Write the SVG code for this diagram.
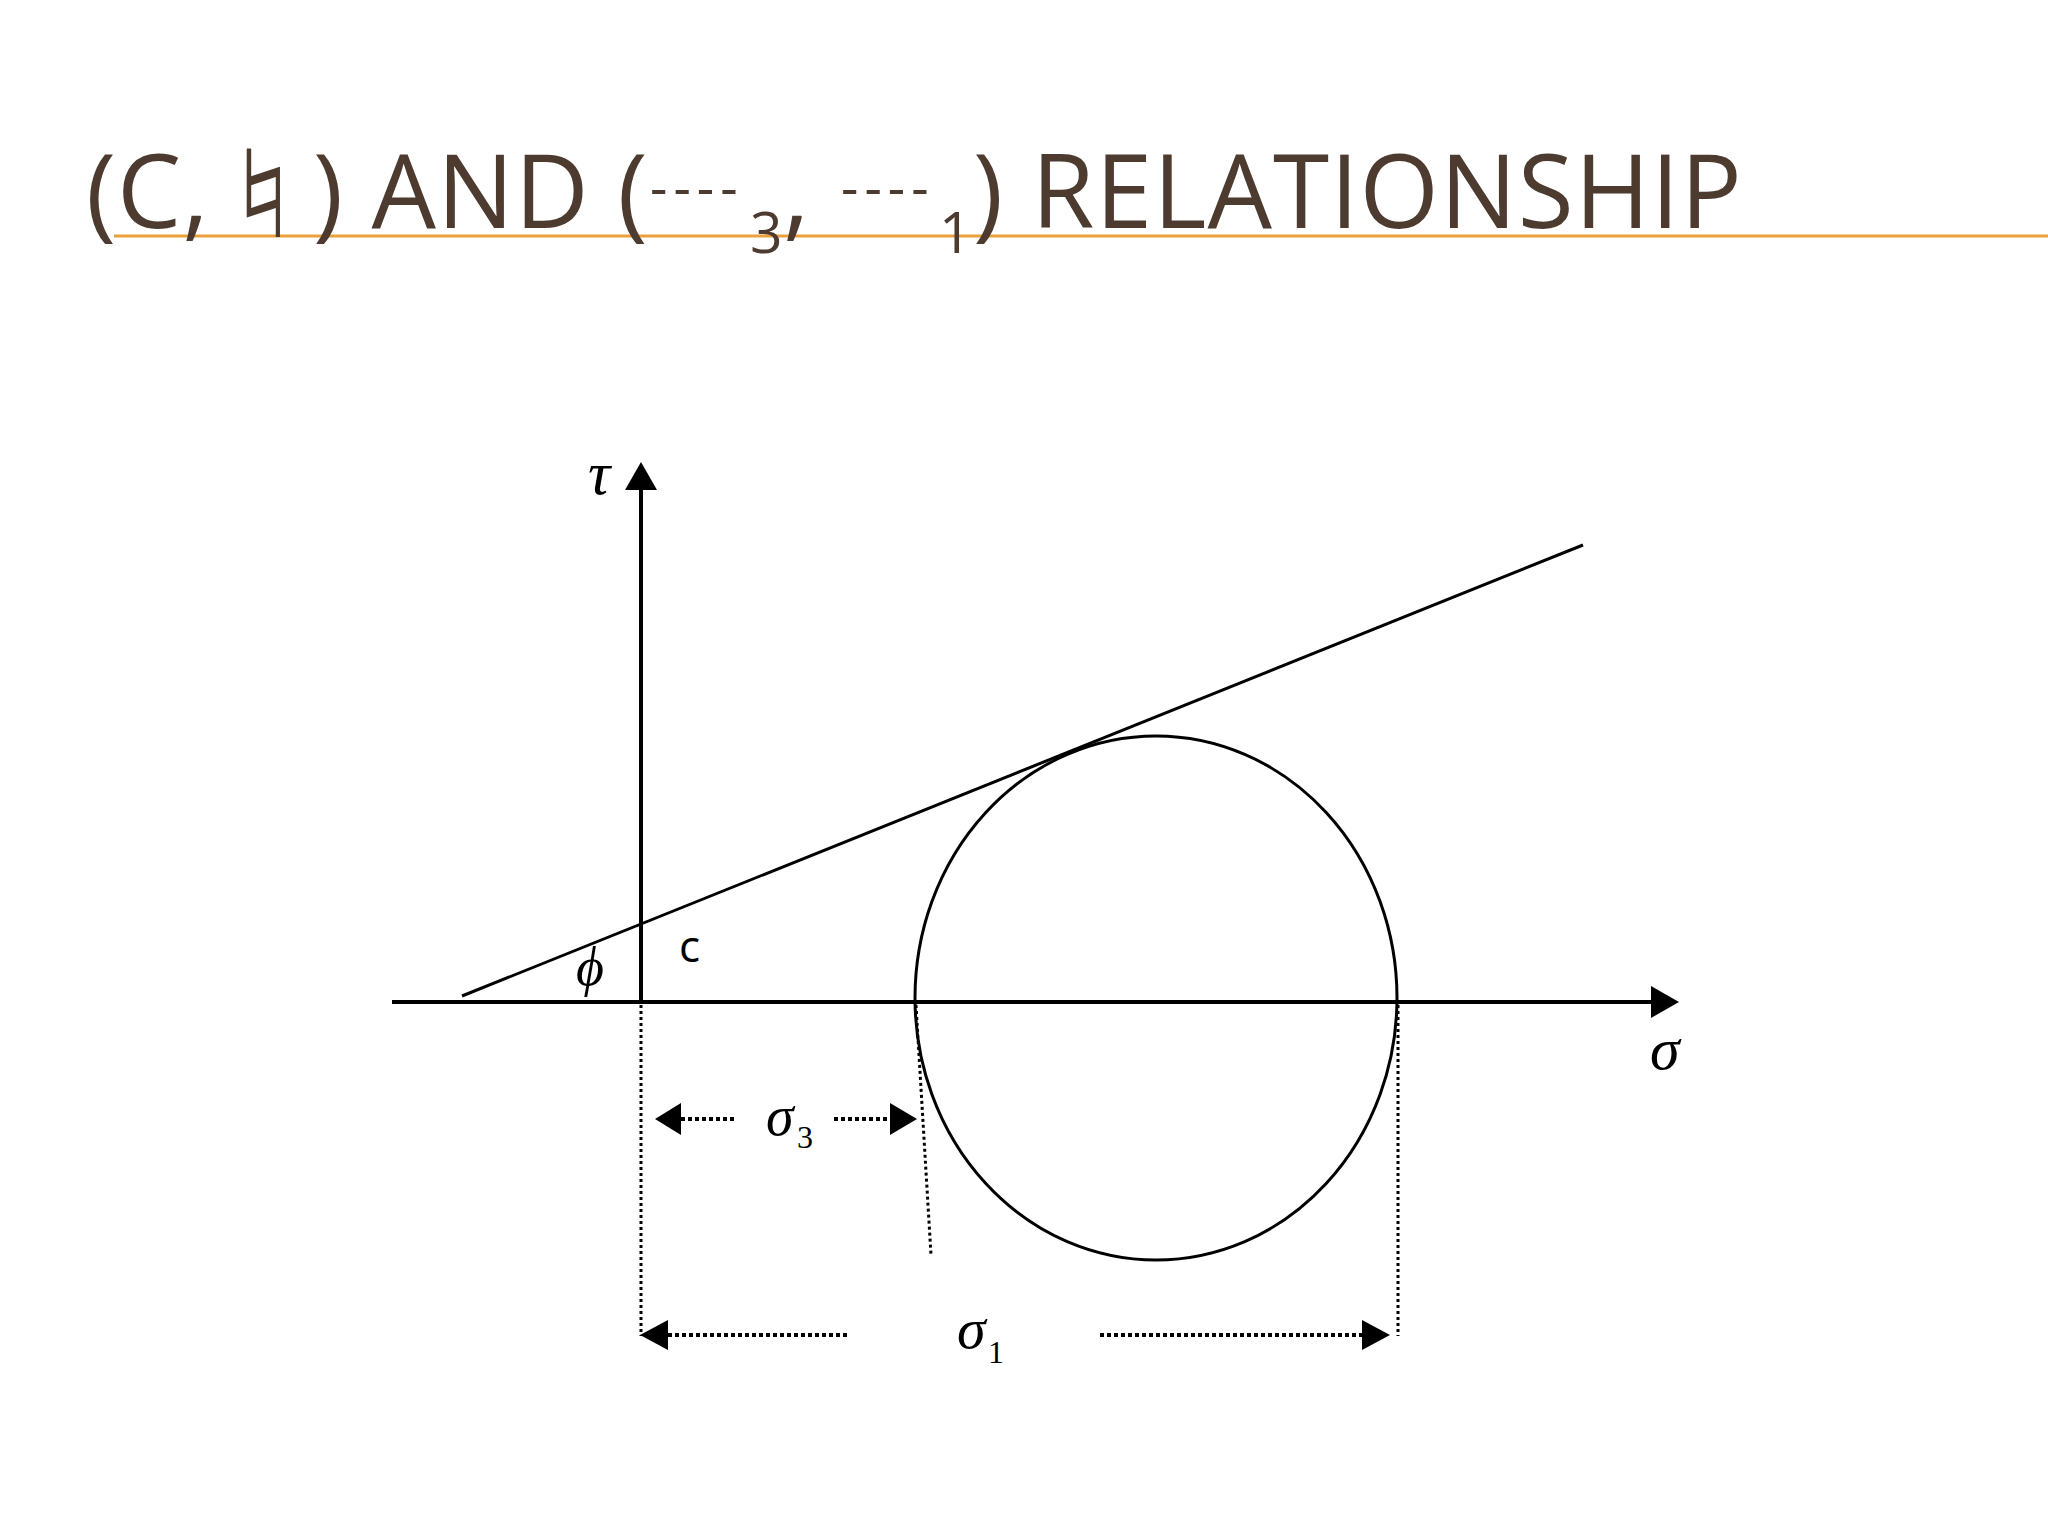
<svg xmlns="http://www.w3.org/2000/svg" width="2048" height="1536" viewBox="0 0 2048 1536">
  <defs>
    <style>
      .title { font-family: "Open Sans", "Liberation Sans", sans-serif; font-size: 102px; fill: #4E3B30; letter-spacing: 1px; }
      .tsub { font-family: "Open Sans", "Liberation Sans", sans-serif; font-size: 57px; fill: #4E3B30; }
      .tdash { font-family: "Open Sans", "Liberation Sans", sans-serif; font-size: 54px; fill: #4E3B30; letter-spacing: 6px; }
      .greek { font-family: "Liberation Serif", "Times New Roman", serif; font-style: italic; fill: #000; }
      .num { font-family: "Liberation Serif", "Times New Roman", serif; fill: #000; }
      .axis { stroke: #000; stroke-width: 4; fill: none; }
      .thin { stroke: #000; stroke-width: 3; fill: none; }
      .dot { stroke: #000; stroke-width: 3; stroke-dasharray: 3 3; fill: none; }
      .dotarrow { stroke: #000; stroke-width: 4; stroke-dasharray: 4 3; fill: none; }
      .head { fill: #000; }
    </style>
  </defs>
  <rect width="2048" height="1536" fill="#FFFFFF"/>

  <g id="title">
    <line x1="114" y1="236" x2="2048" y2="236" stroke="#E9A23B" stroke-width="3"/>
    <text class="title" x="86" y="228">(C,</text>
    <text transform="translate(232,237) scale(1.45,1)" x="0" y="0" font-family="DejaVu Sans, sans-serif" font-size="121" fill="#4E3B30">♮</text>
    <text class="title" x="313" y="228" xml:space="preserve">) AND (</text>
    <text class="tdash" x="650" y="207">----</text>
    <text class="tsub" x="750" y="253">3</text>
    <text class="title" x="783" y="228">,</text>
    <text class="tdash" x="841" y="207">----</text>
    <text class="tsub" x="939" y="253">1</text>
    <text class="title" x="973" y="228" xml:space="preserve">) RELATIONSHIP</text>
  </g>

  <g id="axes">
    <line class="axis" x1="641" y1="488" x2="641" y2="1004"/>
    <polygon class="head" points="625,490 657,490 641,462"/>
    <line class="axis" x1="392" y1="1002" x2="1653" y2="1002"/>
    <polygon class="head" points="1651,986 1651,1018 1679,1002"/>
    <text class="greek" x="588" y="494" font-size="62">τ</text>
    <text class="greek" x="1650" y="1069" font-size="60">σ</text>
  </g>

  <g id="mohr-circle">
    <ellipse class="thin" cx="1156" cy="998" rx="241" ry="262"/>
  </g>

  <g id="failure-envelope">
    <line class="thin" x1="462" y1="996" x2="1583" y2="545"/>
    <text class="greek" x="576" y="985" font-size="54">ϕ</text>
    <text x="679" y="962" font-family="Open Sans, Liberation Sans, sans-serif" font-size="44" fill="#000">c</text>
  </g>

  <g id="connectors">
    <line class="dot" x1="641" y1="1005" x2="641" y2="1336"/>
    <line class="dot" x1="1398" y1="1005" x2="1398" y2="1336"/>
    <line class="dot" x1="916" y1="1005" x2="931" y2="1255"/>

    <line class="dotarrow" x1="681" y1="1119" x2="737" y2="1119"/>
    <polygon class="head" points="681,1103 681,1135 655,1119"/>
    <line class="dotarrow" x1="834" y1="1119" x2="890" y2="1119"/>
    <polygon class="head" points="890,1103 890,1135 917,1119"/>

    <line class="dotarrow" x1="668" y1="1335" x2="850" y2="1335"/>
    <polygon class="head" points="668,1320 668,1350 640,1335"/>
    <line class="dotarrow" x1="1100" y1="1335" x2="1362" y2="1335"/>
    <polygon class="head" points="1362,1320 1362,1350 1390,1335"/>
  </g>

  <g id="sigma3-label">
    <text class="greek" x="766" y="1135" font-size="56">σ</text>
    <text class="num" x="797" y="1148" font-size="32">3</text>
  </g>
  <g id="sigma1-label">
    <text class="greek" x="957" y="1348" font-size="58">σ</text>
    <text class="num" x="988" y="1363" font-size="32">1</text>
  </g>
</svg>
